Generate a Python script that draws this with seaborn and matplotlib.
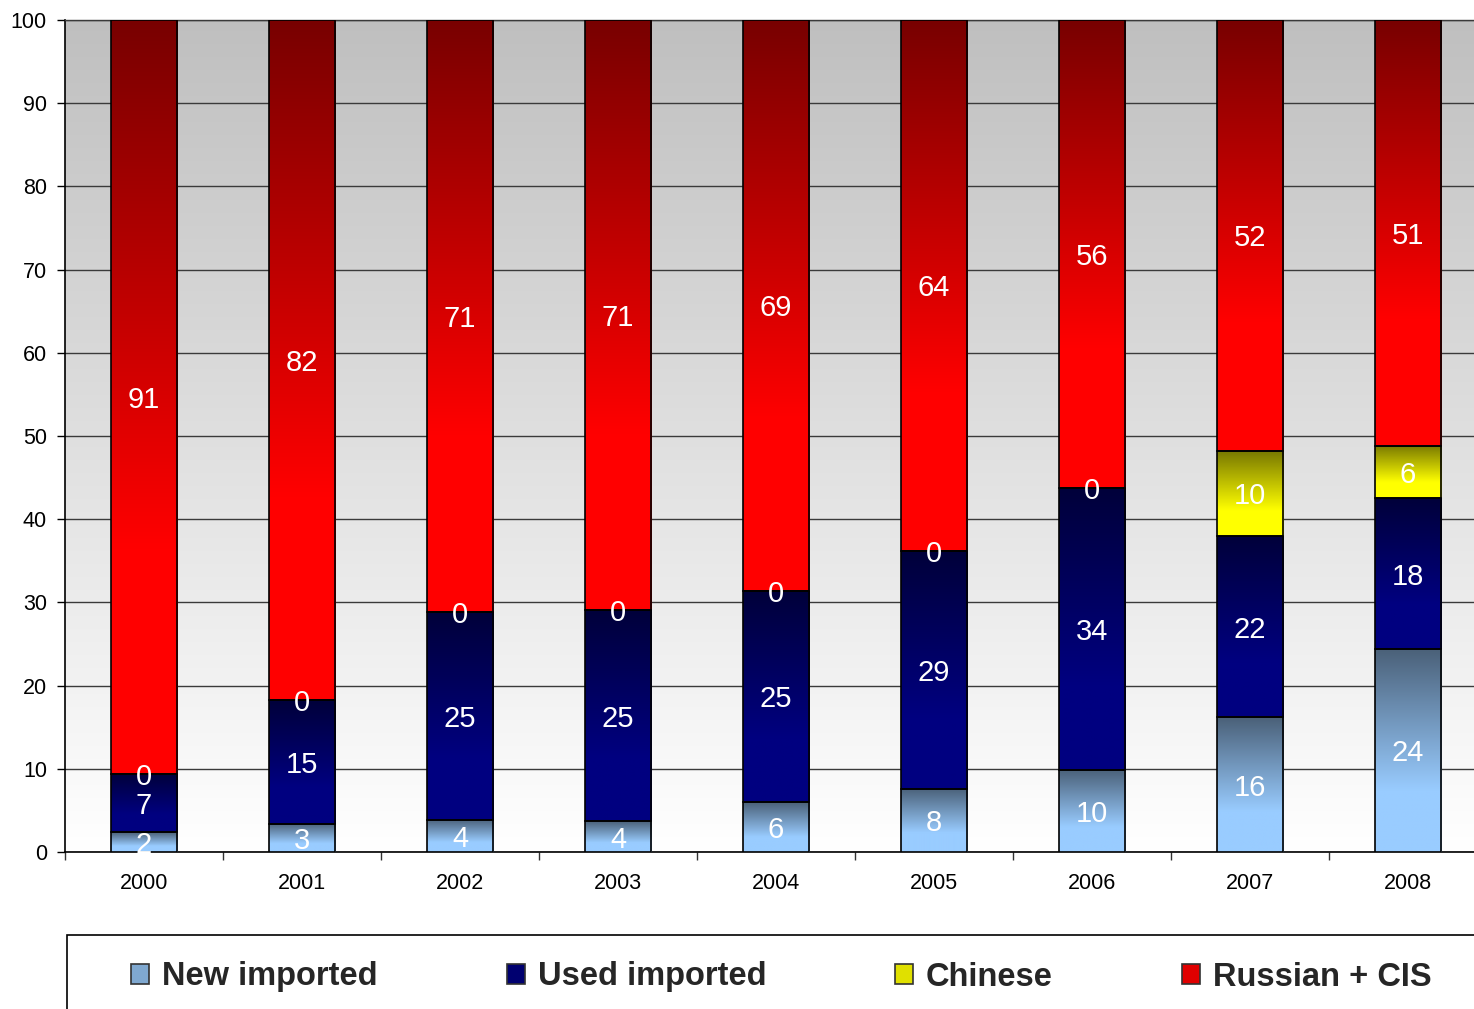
import numpy as np
import pandas as pd
import matplotlib
matplotlib.use("Agg")
import matplotlib.pyplot as plt
import seaborn as sns
from matplotlib.colors import to_rgb
from matplotlib.patches import Rectangle, Patch

years = ["2000", "2001", "2002", "2003", "2004", "2005", "2006", "2007", "2008"]
new_imported = [2.4, 3.4, 3.9, 3.7, 6.0, 7.6, 9.9, 16.2, 24.4]
used_imported = [7.0, 14.9, 24.9, 25.4, 25.4, 28.6, 33.9, 21.8, 18.1]
chinese = [0, 0, 0, 0, 0, 0, 0, 10.2, 6.3]
russian_cis = [90.6, 81.7, 71.2, 70.9, 68.6, 63.8, 56.2, 51.8, 51.2]
series_names = ["New imported", "Used imported", "Chinese", "Russian + CIS"]
y_ticks = [0, 10, 20, 30, 40, 50, 60, 70, 80, 90, 100]

series = [new_imported, used_imported, chinese, russian_cis]
grad = {
    "New imported": ("#4a6078", "#99ccff"),
    "Used imported": ("#00003a", "#000080"),
    "Chinese": ("#787800", "#ffff00"),
    "Russian + CIS": ("#780000", "#ff0000"),
}
legend_col = {
    "New imported": "#7fa8d0",
    "Used imported": "#000070",
    "Chinese": "#e0e000",
    "Russian + CIS": "#e00000",
}

sns.set_style("ticks")
plt.rcParams["font.family"] = ["Liberation Sans", "DejaVu Sans"]

W, H = 1474, 1009
fig = plt.figure(figsize=(W / 100, H / 100), dpi=100)
ax = fig.add_axes([65 / W, 157 / H, 1422 / W, 832 / H])

# background gradient
bg = np.linspace(0.75, 1.0, 256).reshape(-1, 1)
bg_rgb = np.repeat(bg[:, :, None], 3, axis=2)
ax.imshow(bg_rgb, extent=[0, 1, 0, 1], transform=ax.transAxes, aspect="auto",
          origin="upper", zorder=0, interpolation="bilinear")


def grad_img(top, bot, n=256, frac=0.7):
    t = np.linspace(0, 1, n)
    t = np.clip(t / frac, 0, 1)
    a = np.array(to_rgb(top))
    b = np.array(to_rgb(bot))
    arr = a[None, :] * (1 - t[:, None]) + b[None, :] * t[:, None]
    return arr[:, None, :]


bottom = np.zeros(len(years))
for name, vals in zip(series_names, series):
    before = len(ax.patches)
    sns.barplot(x=years, y=vals, order=years, bottom=bottom, width=0.42, ax=ax,
                color=grad[name][1], edgecolor="black", linewidth=1.2,
                errorbar=None, zorder=3)
    new_patches = ax.patches[before:]
    for p, v in zip(new_patches, vals):
        x0, y0, w, h = p.get_x(), p.get_y(), p.get_width(), p.get_height()
        if h > 0:
            im = ax.imshow(grad_img(*grad[name]), extent=[x0, x0 + w, y0, y0 + h],
                           origin="upper", aspect="auto", zorder=2.6,
                           interpolation="bilinear")
            im.set_clip_path(p)
        p.set_facecolor("none")
        ax.text(x0 + w / 2, y0 + h / 2, f"{v:.0f}", ha="center", va="center_baseline",
                color="white", fontsize=21, zorder=5)
    bottom = bottom + np.array(vals)

ax.set_xlim(-0.5, 8.5)
ax.set_ylim(0, 100)
ax.set_yticks(y_ticks)
ax.set_yticklabels([str(t) for t in y_ticks])
ax.set_xticks(range(len(years)))
ax.set_xticklabels(years)
ax.set_xticks(np.arange(-0.5, len(years), 1.0), minor=True)
ax.tick_params(axis="x", which="major", length=0, pad=15, labelsize=15.5, colors="black")
ax.tick_params(axis="x", which="minor", length=6, width=1, direction="out", color="#333333")
ax.tick_params(axis="y", which="major", length=6, width=1, direction="out", pad=7,
               labelsize=15.5, colors="black")
ax.set_xlabel("")
ax.set_ylabel("")
ax.yaxis.grid(True, color="#3a3a3a", linewidth=1.0)
ax.set_axisbelow(True)
for s in ["left", "bottom"]:
    ax.spines[s].set_color("black")
    ax.spines[s].set_linewidth(1.2)
ax.spines["top"].set_color("#3a3a3a")
ax.spines["top"].set_linewidth(1.0)
ax.spines["right"].set_visible(False)

# legend frame
fig.add_artist(Rectangle((67 / W, -0.1), 1.0, (H - 935) / H + 0.1,
                         transform=fig.transFigure, fill=False, edgecolor="black",
                         linewidth=1.2, clip_on=False))
handles = [Patch(facecolor=legend_col[n], edgecolor="#333333", linewidth=1.2)
           for n in series_names]
fig.legend(handles, series_names, loc="center left",
           bbox_to_anchor=(131 / W, 1 - 977 / H), ncol=4, frameon=False,
           prop={"weight": "bold", "size": 23.5}, handlelength=0.55, handleheight=0.55,
           handletextpad=0.4, columnspacing=3.95, borderpad=0, borderaxespad=0)

fig.savefig("out.png", dpi=100)
